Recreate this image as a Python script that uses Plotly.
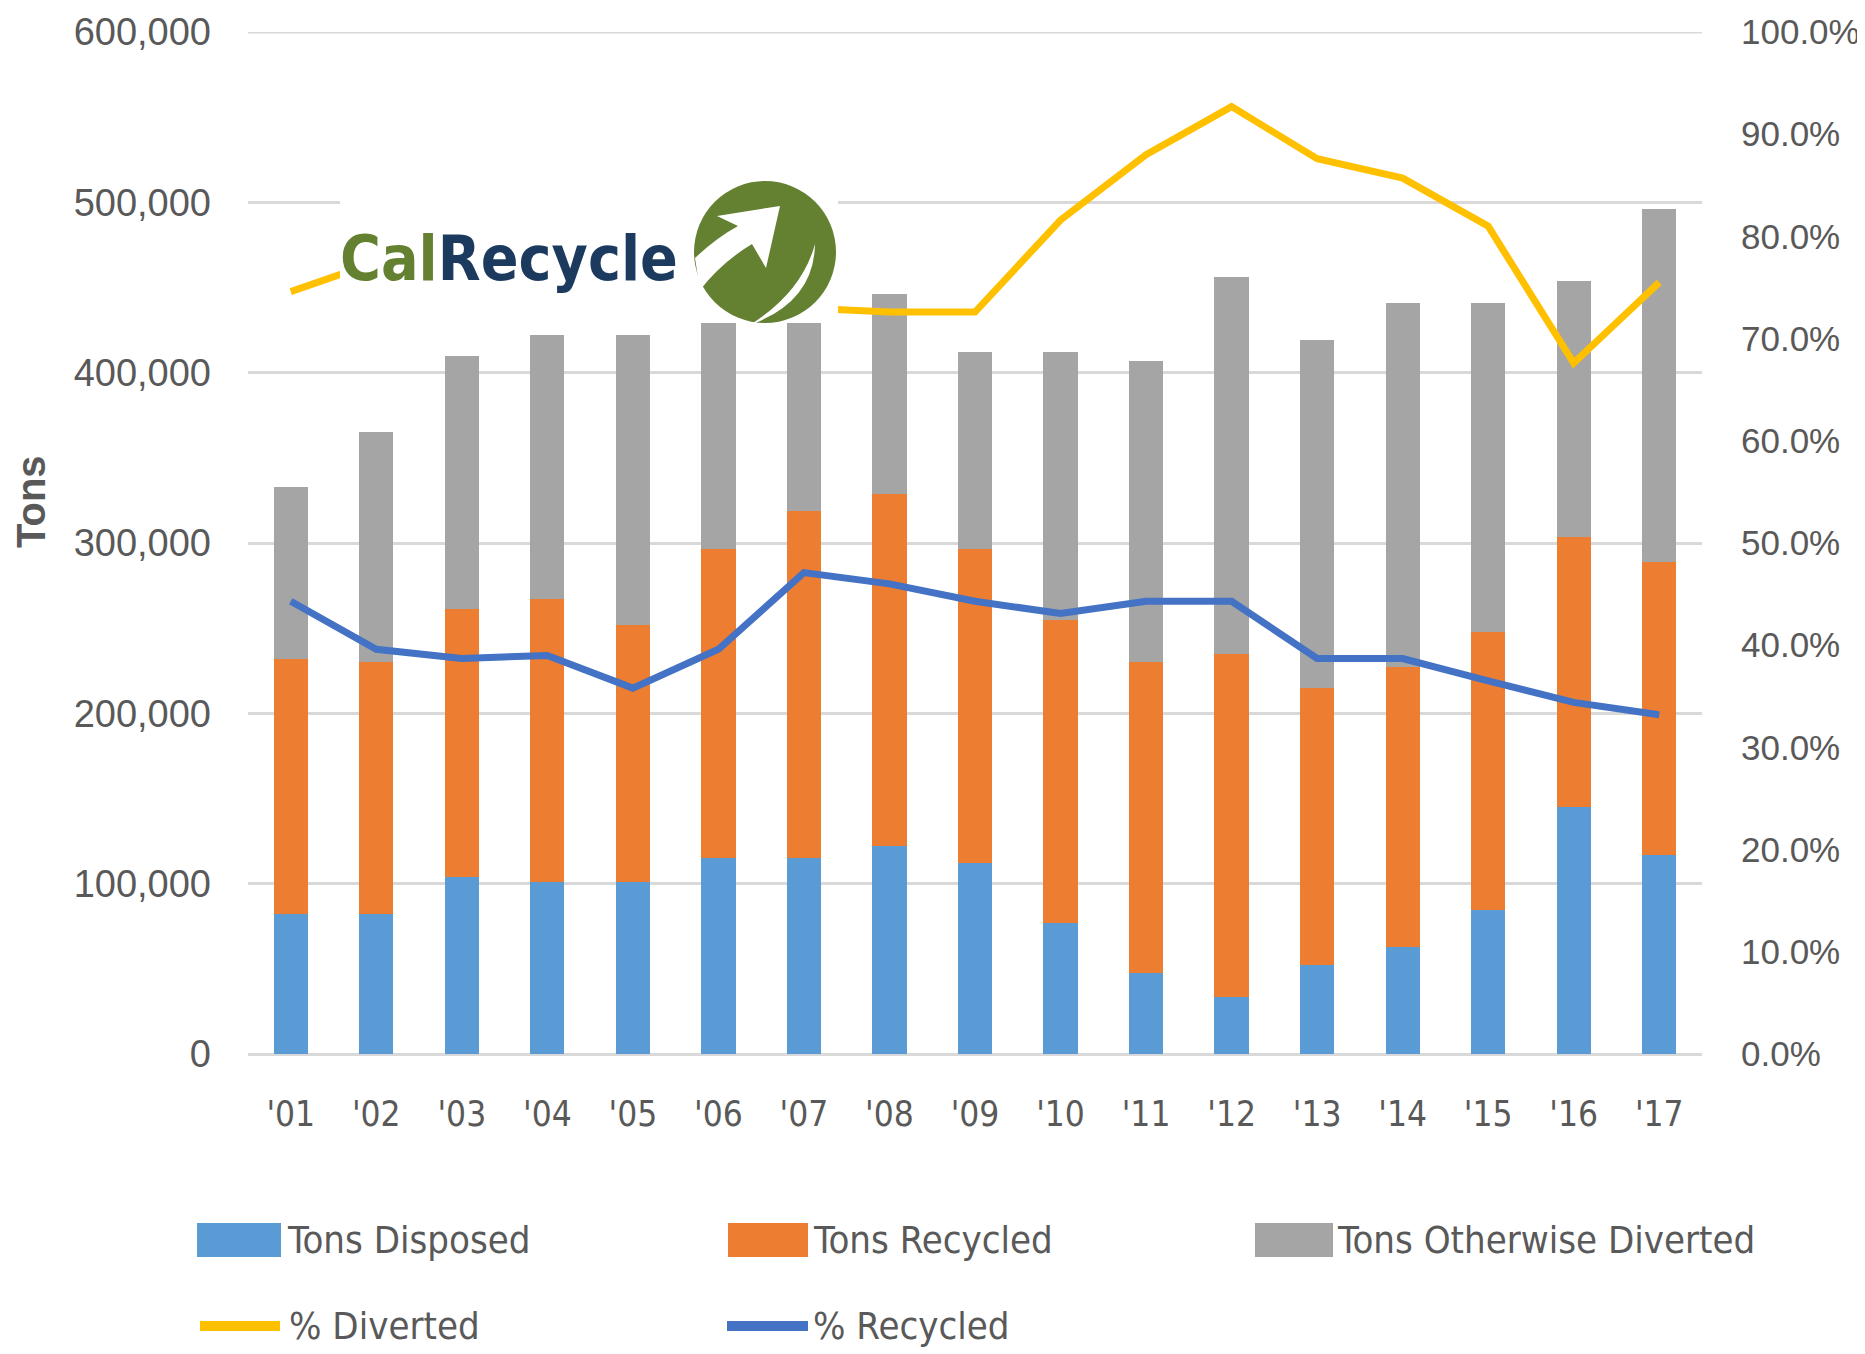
import plotly.graph_objects as go

# ---------------- data ----------------
years = ["'01", "'02", "'03", "'04", "'05", "'06", "'07", "'08", "'09",
         "'10", "'11", "'12", "'13", "'14", "'15", "'16", "'17"]
tons_disposed = [82000, 82000, 104000, 101000, 101000, 115000, 115000, 122000, 112000,
                 77000, 47500, 33500, 52000, 63000, 84500, 145000, 117000]
tons_recycled = [150000, 148000, 157500, 166000, 151000, 181500, 204000, 207000, 184500,
                 178000, 182500, 201500, 163000, 164000, 163000, 158500, 172000]
tons_other = [101000, 135000, 148500, 155000, 170000, 132500, 110000, 117000, 115500,
              157000, 177000, 221000, 204000, 214000, 193500, 150500, 207000]
pct_diverted = [0.746, 0.775, 0.746, 0.760, 0.760, 0.732, 0.730, 0.726, 0.726,
                0.816, 0.880, 0.927, 0.876, 0.857, 0.810, 0.676, 0.755]
pct_recycled = [0.443, 0.396, 0.387, 0.390, 0.358, 0.396, 0.471, 0.460, 0.443,
                0.431, 0.443, 0.443, 0.387, 0.387, 0.365, 0.344, 0.332]
y_max = 600000

# ---------------- styling ----------------
C_BLUE = "#5B9BD5"
C_ORANGE = "#ED7D31"
C_GRAY = "#A5A5A5"
C_YELLOW = "#FFC000"
C_LBLUE = "#4472C4"
GRID = "#D9D9D9"
TXT = "#595959"
NARROW = "Liberation Sans Narrow, DejaVu Sans Condensed, sans-serif"
REG = "Liberation Sans, Arial, sans-serif"

OFF = 8  # default page body margin
W, H = 1865 - OFF, 1354 - OFF
# plot area in page pixels: x 248..1702, y 32..1054
PL, PR, PT, PB = 248, 1702, 32, 1054
L, T = PL - OFF, PT - OFF
R, B = W - (PR - OFF), H - (PB - OFF)
PW, PH = PR - PL, PB - PT


def px(xp):
    """page pixel x -> paper x"""
    return (xp - PL) / PW


def py(yp):
    """page pixel y -> paper y"""
    return (PB - yp) / PH


fig = go.Figure()
fig.add_trace(go.Bar(x=years, y=tons_disposed, name="Tons Disposed",
                     marker=dict(color=C_BLUE, line_width=0), showlegend=False))
fig.add_trace(go.Bar(x=years, y=tons_recycled, name="Tons Recycled",
                     marker=dict(color=C_ORANGE, line_width=0), showlegend=False))
fig.add_trace(go.Bar(x=years, y=tons_other, name="Tons Otherwise Diverted",
                     marker=dict(color=C_GRAY, line_width=0), showlegend=False))
fig.add_trace(go.Scatter(x=years, y=pct_diverted, name="% Diverted", yaxis="y2",
                         mode="lines", line=dict(color=C_YELLOW, width=7), showlegend=False))
fig.add_trace(go.Scatter(x=years, y=pct_recycled, name="% Recycled", yaxis="y2",
                         mode="lines", line=dict(color=C_LBLUE, width=7), showlegend=False))

shapes = []
annotations = []

# top gridline (plotly drops grid lines that sit on the plot edge)
shapes.append(dict(type="line", xref="paper", yref="y", x0=0, x1=1, y0=y_max, y1=y_max,
                   line=dict(color=GRID, width=3), layer="below"))

# ---------------- custom legend ----------------
legend_rows = [
    [("box", C_BLUE, "Tons Disposed", 197, 281, 285),
     ("box", C_ORANGE, "Tons Recycled", 728, 808, 811),
     ("box", C_GRAY, "Tons Otherwise Diverted", 1255, 1333, 1335)],
    [("line", C_YELLOW, "% Diverted", 200, 280, 287),
     ("line", C_LBLUE, "% Recycled", 727, 808, 811)],
]
row_y = [1240, 1326]
for row, yc in zip(legend_rows, row_y):
    for kind, col, label, x0, x1, tx in row:
        if kind == "box":
            shapes.append(dict(type="rect", xref="paper", yref="paper",
                               x0=px(x0), x1=px(x1), y0=py(yc + 17), y1=py(yc - 17),
                               fillcolor=col, line_width=0))
        else:
            shapes.append(dict(type="line", xref="paper", yref="paper",
                               x0=px(x0), x1=px(x1), y0=py(yc), y1=py(yc),
                               line=dict(color=col, width=10)))
        annotations.append(dict(text=label, xref="paper", yref="paper",
                                x=px(tx), y=py(yc), xanchor="left", yanchor="middle",
                                showarrow=False, font=dict(family=NARROW, size=38, color=TXT)))

# y-axis title
annotations.append(dict(text="<b>Tons</b>", xref="paper", yref="paper",
                        x=px(31), y=py(501), textangle=-90, showarrow=False,
                        xanchor="center", yanchor="middle",
                        font=dict(family=REG, size=40, color=TXT)))

# ---------------- logo ----------------
shapes.append(dict(type="rect", xref="paper", yref="paper", layer="above",
                   x0=px(340), x1=px(838), y0=py(320), y1=py(180),
                   fillcolor="white", line_width=0))
LOGO_G = "#648132"
LOGO_N = "#1C3A5E"
cx, cy, rr = 765, 252, 71
shapes.append(dict(type="circle", xref="paper", yref="paper", layer="above",
                   x0=px(cx - rr), x1=px(cx + rr), y0=py(cy + rr), y1=py(cy - rr),
                   fillcolor=LOGO_G, line_width=0))


def P(xp, yp):
    return f"{px(xp):.5f},{py(yp):.5f}"


arrow = ("M " + P(695, 258) + " Q " + P(716, 238) + " " + P(738, 226) +
         " L " + P(717, 216) + " L " + P(780, 206) + " L " + P(766, 268) +
         " L " + P(752, 244) + " Q " + P(722, 262) + " " + P(700, 290) + " Z")
shapes.append(dict(type="path", xref="paper", yref="paper", layer="above",
                   path=arrow, fillcolor="white", line_width=0))
crescent = ("M " + P(815, 244) + " Q " + P(814, 302) + " " + P(750, 325) +
            " Q " + P(802, 292) + " " + P(815, 244) + " Z")
shapes.append(dict(type="path", xref="paper", yref="paper", layer="above",
                   path=crescent, fillcolor="white", line_width=0))
annotations.append(dict(
    text=f"<span style='color:{LOGO_G}'>Cal</span><span style='color:{LOGO_N}'>Recycle</span>",
    xref="paper", yref="paper", x=px(338), y=py(258), xanchor="left", yanchor="middle",
    showarrow=False, font=dict(family=NARROW, size=62, weight="bold")))

fig.update_layout(
    width=W, height=H,
    margin=dict(l=L, r=R, t=T, b=B, autoexpand=False),
    paper_bgcolor="white", plot_bgcolor="white",
    barmode="stack", bargap=0.6,
    showlegend=False,
    xaxis=dict(type="category", showline=False, ticks="", showgrid=False, automargin=False,
               tickfont=dict(family=NARROW, size=35, color=TXT),
               ticklabelstandoff=36),
    yaxis=dict(range=[0, y_max], dtick=100000, tickformat=",", automargin=False,
               showgrid=True, gridcolor=GRID, gridwidth=3,
               zeroline=True, zerolinecolor=GRID, zerolinewidth=3,
               showline=False, ticks="",
               tickfont=dict(family=REG, size=38, color=TXT),
               ticklabelstandoff=36),
    yaxis2=dict(range=[0, 1], dtick=0.1, tickformat=".1%", overlaying="y", side="right",
                showgrid=False, zeroline=False, showline=False, ticks="", automargin=False,
                tickfont=dict(family=REG, size=35, color=TXT),
                ticklabelstandoff=38),
    shapes=shapes,
    annotations=annotations,
)

fig.write_html("out.html")
